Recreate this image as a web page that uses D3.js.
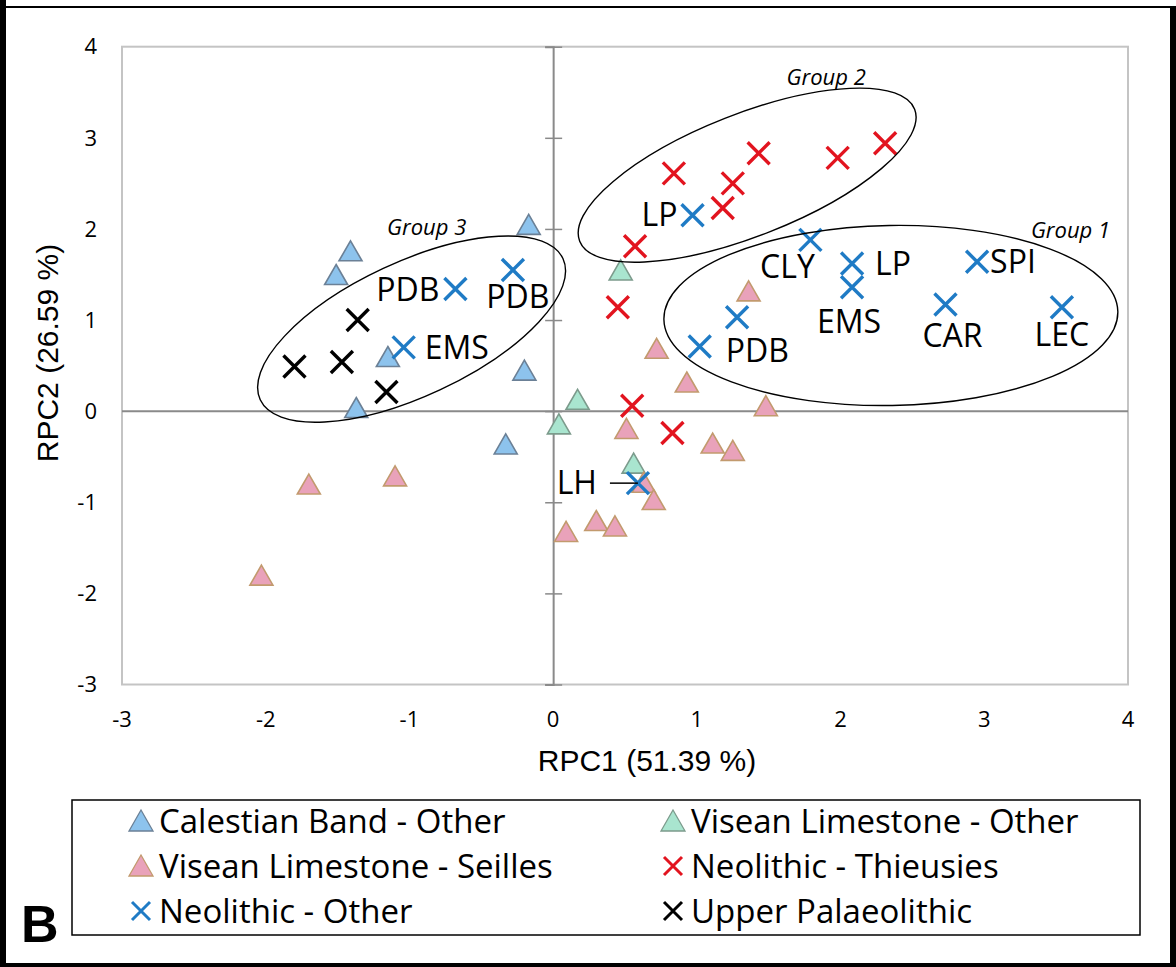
<!DOCTYPE html>
<html>
<head>
<meta charset="utf-8">
<script src="https://cdn.jsdelivr.net/npm/d3@7"></script>
<style>
  body { margin: 0; background: #fff; }
  svg { display: block; }
</style>
</head>
<body>
<div id="chart"></div>
<script>
// Data (RPC1, RPC2)
const calestianOther = [[-1.41, 1.76], [-1.51, 1.50], [-0.17, 2.05], [-1.15, 0.60], [-1.37, 0.04], [-0.20, 0.45], [-0.33, -0.36]];
const viseanOther = [[0.47, 1.55], [0.17, 0.13], [0.04, -0.14], [0.56, -0.57]];
const viseanSeilles = [[1.36, 1.32], [0.72, 0.69], [0.93, 0.32], [1.48, 0.06], [0.51, -0.19], [1.11, -0.35], [1.25, -0.43],
  [0.63, -0.78], [0.70, -0.97], [0.30, -1.20], [0.43, -1.26], [0.09, -1.32], [-1.10, -0.71], [-1.70, -0.80], [-2.03, -1.80]];
const neoThieusies = [[0.57, 1.81], [1.18, 2.23], [1.25, 2.50], [0.84, 2.61], [1.43, 2.83], [1.98, 2.78], [2.31, 2.94],
  [0.45, 1.14], [0.55, 0.06], [0.83, -0.24]];
const neoOther = [[-0.68, 1.34], [-0.28, 1.55], [-1.04, 0.70], [0.97, 2.15], [1.79, 1.88], [2.08, 1.62], [2.08, 1.36],
  [2.95, 1.64], [2.73, 1.17], [3.54, 1.14], [1.02, 0.71], [1.28, 1.03], [0.59, -0.79]];
const upperPalaeo = [[-1.36, 1.00], [-1.80, 0.49], [-1.47, 0.54], [-1.16, 0.21]];

const xTicks = [-3, -2, -1, 0, 1, 2, 3, 4];
const yTicks = [-3, -2, -1, 0, 1, 2, 3, 4];

// site labels attached to Neolithic - Other points (index into neoOther)
const siteLabels = ["PDB", "PDB", "EMS", "LP", "CLY", "LP", "EMS", "SPI", "CAR", "LEC", "PDB", null, "LH"];

const seriesNames = ["Calestian Band - Other", "Visean Limestone - Other", "Visean Limestone - Seilles",
  "Neolithic - Thieusies", "Neolithic - Other", "Upper Palaeolithic"];

// styles
const series = [
  { name: seriesNames[0], data: calestianOther, shape: "tri", fill: "#8dc3ed", stroke: "#6b8096" },
  { name: seriesNames[1], data: viseanOther, shape: "tri", fill: "#a9e5cf", stroke: "#7c9b8c" },
  { name: seriesNames[2], data: viseanSeilles, shape: "tri", fill: "#e9a2ba", stroke: "#c29a6e" },
  { name: seriesNames[3], data: neoThieusies, shape: "x", stroke: "#e2141f" },
  { name: seriesNames[4], data: neoOther, shape: "x", stroke: "#1f7bc5" },
  { name: seriesNames[5], data: upperPalaeo, shape: "x", stroke: "#000000" }
];

const W = 1176, H = 967;
const svg = d3.select('#chart').append('svg').attr('width', W).attr('height', H);

const x = d3.scaleLinear().domain([-3, 4]).range([122, 1128]);
const y = d3.scaleLinear().domain([-3, 4]).range([684.5, 46.7]);

// outer frame
svg.append('line').attr('x1', 0).attr('x2', W).attr('y1', 7).attr('y2', 7).attr('stroke', '#000').attr('stroke-width', 2);
svg.append('rect').attr('x', 0).attr('y', 0).attr('width', 6).attr('height', H).attr('fill', '#000');
svg.append('rect').attr('x', 1170).attr('y', 7).attr('width', 6).attr('height', H).attr('fill', '#000');
svg.append('rect').attr('x', 0).attr('y', 963).attr('width', W).attr('height', 4).attr('fill', '#000');

// plot frame
svg.append('rect')
  .attr('x', x(-3)).attr('y', y(4))
  .attr('width', x(4) - x(-3)).attr('height', y(-3) - y(4))
  .attr('fill', 'none').attr('stroke', '#c4c4c4').attr('stroke-width', 2);

// zero lines
svg.append('line').attr('x1', x(-3)).attr('x2', x(4)).attr('y1', y(0)).attr('y2', y(0))
  .attr('stroke', '#8a8a8a').attr('stroke-width', 2);
const yAxis = d3.axisLeft(y).tickValues(yTicks).tickSize(8).tickFormat('');
const yAx = svg.append('g').attr('transform', `translate(${x(0)},0)`).call(yAxis);
yAx.select('.domain').attr('stroke', '#8a8a8a').attr('stroke-width', 2);
yAx.selectAll('.tick line').attr('stroke', '#8a8a8a').attr('stroke-width', 1.5).attr('x1', -8).attr('x2', 9);

// tick labels
const tickFont = "'Open Sans', sans-serif";
svg.append('g').selectAll('text').data(yTicks).join('text')
  .attr('x', 97).attr('y', d => y(d)).attr('dy', '0.35em')
  .attr('text-anchor', 'end').attr('font-family', tickFont).attr('font-size', 22).attr('fill', '#000')
  .text(d => d);
svg.append('g').selectAll('text').data(xTicks).join('text')
  .attr('x', d => x(d)).attr('y', 719).attr('dy', '0.35em')
  .attr('text-anchor', 'middle').attr('font-family', tickFont).attr('font-size', 22).attr('fill', '#000')
  .text(d => d);

// axis titles
svg.append('text').attr('x', 647).attr('y', 760).attr('dy', '0.35em')
  .attr('text-anchor', 'middle').attr('font-family', "'Liberation Sans', Arial, sans-serif").attr('font-size', 30)
  .text('RPC1 (51.39 %)');
svg.append('text').attr('transform', 'translate(47,353) rotate(-90)').attr('dy', '0.35em')
  .attr('text-anchor', 'middle').attr('font-family', "'Liberation Sans', Arial, sans-serif").attr('font-size', 30)
  .text('RPC2 (26.59 %)');

// markers
const triPath = 'M0,-10L11.5,10L-11.5,10Z';
const xPath = 'M-11,-11L11,11M-11,11L11,-11';
const marks = svg.append('g');
series.forEach(s => {
  const g = marks.append('g');
  g.selectAll('path').data(s.data).join('path')
    .attr('transform', d => `translate(${x(d[0])},${y(d[1])})`)
    .attr('d', s.shape === 'tri' ? triPath : xPath)
    .attr('fill', s.shape === 'tri' ? s.fill : 'none')
    .attr('stroke', s.stroke)
    .attr('stroke-width', s.shape === 'tri' ? 1.6 : 3.4);
});

// site labels (pixel offsets from their point)
const labelOffsets = [
  { dx: -16, dy: 1, anchor: 'end' }, { dx: 5, dy: 27, anchor: 'middle' }, { dx: 21, dy: 0, anchor: 'start' },
  { dx: -15, dy: 0, anchor: 'end' }, { dx: -23, dy: 27, anchor: 'middle' }, { dx: 23, dy: 0, anchor: 'start' },
  { dx: -3, dy: 35, anchor: 'middle' }, { dx: 13, dy: 0, anchor: 'start' }, { dx: 7, dy: 31, anchor: 'middle' },
  { dx: 0, dy: 28, anchor: 'middle' }, { dx: 26, dy: 4, anchor: 'start' }, null, { dx: -41, dy: 0, anchor: 'end' }
];
const labelFont = "'Open Sans', sans-serif";
neoOther.forEach((d, i) => {
  if (!siteLabels[i]) return;
  const o = labelOffsets[i];
  svg.append('text')
    .attr('x', x(d[0]) + o.dx).attr('y', y(d[1]) + o.dy).attr('dy', '0.35em')
    .attr('text-anchor', o.anchor).attr('font-family', labelFont).attr('font-size', 32).attr('fill', '#000')
    .text(siteLabels[i]);
  if (siteLabels[i] === 'LH') {
    svg.append('line').attr('x1', x(d[0]) - 28).attr('x2', x(d[0]))
      .attr('y1', y(d[1])).attr('y2', y(d[1])).attr('stroke', '#000').attr('stroke-width', 1.5);
  }
});

// group ellipses (centre in data units, radii in px, tilt in degrees)
const groups = [
  { name: 'Group 1', cx: 2.35, cy: 1.05, rx: 227, ry: 90, rot: -1, lx: 3.6, ly: 1.98 },
  { name: 'Group 2', cx: 1.35, cy: 2.59, rx: 180, ry: 61, rot: -21.5, lx: 1.90, ly: 3.66 },
  { name: 'Group 3', cx: -0.985, cy: 0.90, rx: 167, ry: 67, rot: -25, lx: -0.88, ly: 2.02 }
];
groups.forEach(g => {
  svg.append('ellipse')
    .attr('transform', `translate(${x(g.cx)},${y(g.cy)}) rotate(${g.rot})`)
    .attr('rx', g.rx).attr('ry', g.ry)
    .attr('fill', 'none').attr('stroke', '#000').attr('stroke-width', 1.4);
  svg.append('text')
    .attr('x', x(g.lx)).attr('y', y(g.ly)).attr('dy', '0.35em')
    .attr('text-anchor', 'middle').attr('font-family', labelFont).attr('font-style', 'italic')
    .attr('font-size', 22).text(g.name);
});

// legend
svg.append('rect').attr('x', 72).attr('y', 800).attr('width', 1068).attr('height', 135)
  .attr('fill', '#fff').attr('stroke', '#000').attr('stroke-width', 1.5);
const legendCols = [141, 673];
const legendRows = [821, 866, 911];
series.forEach((s, i) => {
  const cx = legendCols[i % 2], cy = legendRows[Math.floor(i / 2)];
  const g = svg.append('g').attr('transform', `translate(${cx},${cy})`);
  if (s.shape === 'tri') {
    g.append('path').attr('d', 'M0,-11L12,10L-12,10Z').attr('fill', s.fill).attr('stroke', s.stroke).attr('stroke-width', 1.3);
  } else {
    g.append('path').attr('d', 'M-9,-9L9,9M-9,9L9,-9').attr('fill', 'none').attr('stroke', s.stroke).attr('stroke-width', 3);
  }
  g.append('text').attr('x', 18).attr('y', 0).attr('dy', '0.35em')
    .attr('font-family', labelFont).attr('font-size', 33).text(s.name);
});

// panel letter
svg.append('text').attr('x', 21).attr('y', 942)
  .attr('font-family', "'Liberation Sans', Arial, sans-serif").attr('font-weight', 'bold').attr('font-size', 52)
  .text('B');
</script>
</body>
</html>
